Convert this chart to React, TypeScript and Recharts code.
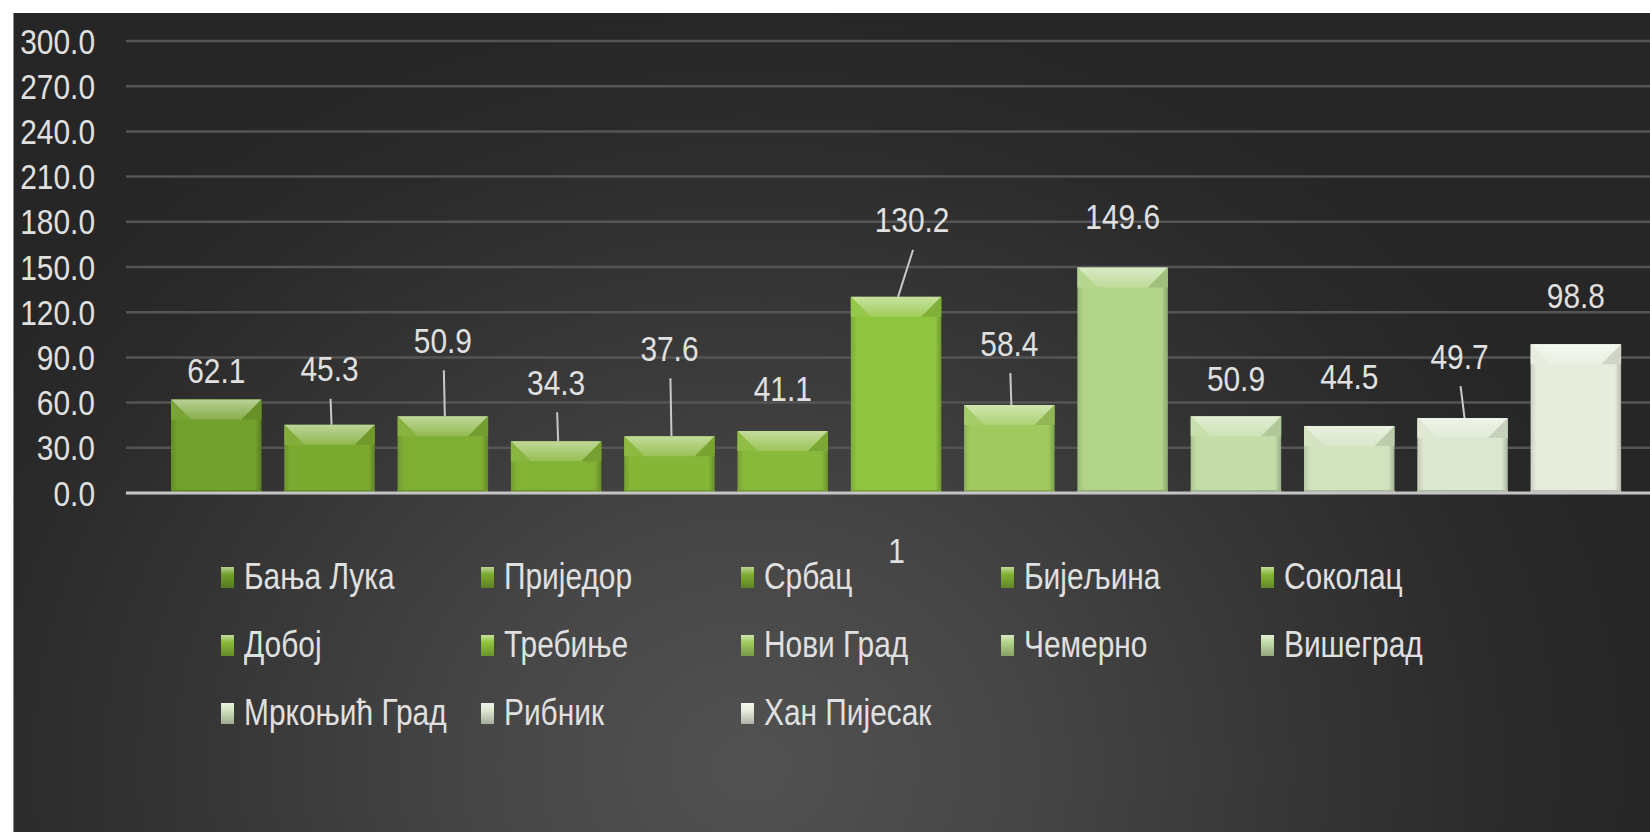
import React from 'react';
import { BarChart, Bar, XAxis, YAxis, CartesianGrid, LabelList, Legend } from 'recharts';

// ---------- data ----------
const CATEGORIES = ['1'];
const SERIES_NAMES = [
  'Бања Лука', 'Приједор', 'Србац', 'Бијељина', 'Соколац', 'Добој', 'Требиње',
  'Нови Град', 'Чемерно', 'Вишеград', 'Мркоњић Град', 'Рибник', 'Хан Пијесак',
];
const SERIES_VALUES = [62.1, 45.3, 50.9, 34.3, 37.6, 41.1, 130.2, 58.4, 149.6, 50.9, 44.5, 49.7, 98.8];
const Y_TICKS = [0, 30, 60, 90, 120, 150, 180, 210, 240, 270, 300];

// ---------- styles ----------
const COLORS = [
  '#72a02c', '#7caa31', '#80ae33', '#83b235', '#86b637', '#89b93a', '#8fc43e',
  '#a0ca5f', '#b2d488', '#c4dda8', '#d2e3c0', '#dce7d0', '#e7eddd',
];
// label offset (dx, dy) from bar-top centre to label centre, in px; leader line flag
const LABEL_DX = [0, 0, 0, 0, 0, 0, 16, 0, 0, 0, 0, -3, 0];
const LABEL_DY = [-29, -56, -76, -59, -88, -43, -77, -62, -51, -38, -49, -62, -49];
const LEADER = [false, true, true, true, true, false, true, true, false, false, false, true, false];

const FONT = "'Liberation Sans', Arial, sans-serif";
const FS = 36;
const SX = 0.83;
const TEXT_COLOR = '#e0e0e0';

const data = CATEGORIES.map((c) => {
  const row: Record<string, any> = { name: c };
  SERIES_NAMES.forEach((_, i) => {
    row['s' + i] = SERIES_VALUES[i];
  });
  return row;
});

function mix(hex: string, target: string, t: number) {
  const p = (h: string) => [1, 3, 5].map((k) => parseInt(h.slice(k, k + 2), 16));
  const a = p(hex);
  const b = p(target);
  const c = a.map((v, k) => Math.round(v + (b[k] - v) * t));
  return '#' + c.map((v) => v.toString(16).padStart(2, '0')).join('');
}

const NarrowText = ({ x, y, anchor, children }: any) => (
  <g transform={`translate(${x},${y})`}>
    <text
      transform={`scale(${SX},1)`}
      x={0}
      y={0}
      textAnchor={anchor}
      dominantBaseline="central"
      fill={TEXT_COLOR}
      fontSize={FS}
      fontFamily={FONT}
    >
      {children}
    </text>
  </g>
);

const YTick = (props: any) => {
  const { x, y, payload } = props;
  return (
    <NarrowText x={x} y={y} anchor="end">
      {Number(payload.value).toFixed(1)}
    </NarrowText>
  );
};

const XTick = (props: any) => {
  const { x, y, payload } = props;
  return (
    <NarrowText x={x} y={y + 13} anchor="middle">
      {payload.value}
    </NarrowText>
  );
};

const makeShape = (i: number) => (props: any) => {
  const { x, y, width: w, height: h } = props;
  if (w == null || h == null || h <= 0) return null;
  const base = COLORS[i];
  const b = Math.min(20, h / 2);
  const id = 'face' + i;
  const tid = 'top' + i;
  return (
    <g>
      <defs>
        <linearGradient id={id} x1="0" y1="0" x2="1" y2="0">
          <stop offset="0%" stopColor={mix(base, '#000000', 0.12)} />
          <stop offset="7%" stopColor={base} />
          <stop offset="93%" stopColor={base} />
          <stop offset="100%" stopColor={mix(base, '#000000', 0.22)} />
        </linearGradient>
        <linearGradient id={tid} x1="0" y1="0" x2="0" y2="1">
          <stop offset="0%" stopColor={mix(base, '#ffffff', 0.5)} />
          <stop offset="100%" stopColor={mix(base, '#ffffff', 0.15)} />
        </linearGradient>
      </defs>
      <rect x={x} y={y} width={w} height={h} fill={`url(#${id})`} />
      <polygon
        points={`${x},${y} ${x + w},${y} ${x + w - b},${y + b} ${x + b},${y + b}`}
        fill={`url(#${tid})`}
      />
      <polygon
        points={`${x},${y} ${x + b},${y + b} ${x},${y + b}`}
        fill={mix(base, '#ffffff', 0.05)}
      />
      <polygon
        points={`${x + w},${y} ${x + w - b},${y + b} ${x + w},${y + b}`}
        fill={mix(base, '#000000', 0.1)}
      />
      <rect x={x} y={y + h - 3} width={w} height={3} fill={mix(base, '#000000', 0.2)} />
    </g>
  );
};

const makeLabel = (i: number) => (props: any) => {
  const { x, y, width: w, value } = props;
  if (x == null || y == null) return null;
  const cx = x + w / 2;
  const tx = cx + LABEL_DX[i];
  const ty = y + LABEL_DY[i];
  return (
    <g>
      {LEADER[i] && (
        <line x1={tx + 1} y1={ty + 30} x2={cx + 2} y2={y} stroke="#c8c8c8" strokeWidth={2} />
      )}
      <NarrowText x={tx} y={ty} anchor="middle">
        {Number(value).toFixed(1)}
      </NarrowText>
    </g>
  );
};

const LegendGrid = () => (
  <div
    style={{
      display: 'grid',
      gridTemplateColumns: 'repeat(5, 260px)',
      gridAutoRows: '68px',
      paddingLeft: 221,
      fontFamily: FONT,
      fontSize: FS,
      color: TEXT_COLOR,
    }}
  >
    {SERIES_NAMES.map((n, i) => (
      <div key={n} style={{ display: 'flex', alignItems: 'center', whiteSpace: 'nowrap' }}>
        <span
          style={{
            display: 'inline-block',
            flexShrink: 0,
            width: 13,
            height: 21,
            marginRight: 10,
            background: `linear-gradient(180deg, ${mix(COLORS[i], '#ffffff', 0.5)} 0%, ${COLORS[i]} 35%, ${mix(
              COLORS[i],
              '#000000',
              0.25
            )} 100%)`,
          }}
        />
        <span style={{ display: 'inline-block', transform: `scaleX(${SX})`, transformOrigin: 'left center' }}>
          {n}
        </span>
      </div>
    ))}
  </div>
);

export default function App() {
  return (
    <div
      style={{
        position: 'absolute',
        left: 0,
        top: 0,
        width: 1650,
        height: 835,
        background: '#ffffff',
        overflow: 'hidden',
      }}
    >
      <div
        style={{
          position: 'absolute',
          left: 13,
          top: 13,
          width: 1637,
          height: 819,
          borderLeft: '1px solid #8a8a8a',
          background:
            'radial-gradient(ellipse 55% 95% at 45% 92%, #525252 0%, #464646 30%, #363636 60%, #2a2a2a 85%, #262626 100%)',
        }}
      />
      <div style={{ position: 'absolute', left: 0, top: 0 }}>
        <BarChart
          width={1667}
          height={835}
          data={data}
          margin={{ top: 41, right: 0, left: 14, bottom: 282 }}
          barSize={90.5}
          barGap={22.8}
        >
          <CartesianGrid horizontal vertical={false} stroke="#555555" strokeWidth={2.5} />
          <XAxis
            dataKey="name"
            height={60}
            axisLine={{ stroke: '#c4c4c4', strokeWidth: 3 }}
            tickLine={false}
            tickSize={0}
            tickMargin={44}
            tick={<XTick />}
          />
          <YAxis
            width={112}
            domain={[0, 300]}
            ticks={Y_TICKS}
            interval={0}
            axisLine={false}
            tickLine={false}
            tickSize={0}
            tickMargin={31}
            tick={<YTick />}
          />
          <Legend
            layout="horizontal"
            verticalAlign="middle"
            align="center"
            content={() => <LegendGrid />}
            wrapperStyle={{ left: 0, top: 543, width: 1650 }}
          />
          {SERIES_NAMES.map((n, i) => (
            <Bar
              key={n}
              dataKey={'s' + i}
              name={n}
              fill={COLORS[i]}
              isAnimationActive={false}
              shape={makeShape(i)}
            >
              <LabelList dataKey={'s' + i} content={makeLabel(i)} />
            </Bar>
          ))}
        </BarChart>
      </div>
    </div>
  );
}
